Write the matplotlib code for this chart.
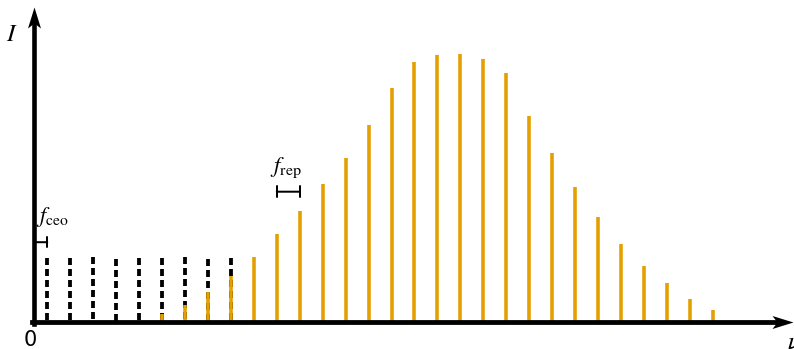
import numpy as np
import matplotlib
matplotlib.use("Agg")
import matplotlib.pyplot as plt
from matplotlib.path import Path

plt.rcParams["mathtext.fontset"] = "stix"
plt.rcParams["lines.scale_dashes"] = False

# Frequency comb: line n sits at f_ceo + n * f_rep
f_rep = 1.0
f_ceo = 0.58
n_lines = 30

# Intensity envelope of the measured comb (arbitrary units)
intensity = [0, 0, 0, 0, 0, 7.5, 16.5, 29.5, 45.5, 64.5, 87.5, 110.5, 138, 164,
             197, 234, 260, 267, 268, 263, 249, 205.5, 168.5, 135, 104.5, 77.5,
             55.5, 38.5, 22.5, 11.5]
# Extrapolated (dashed) low-frequency lines
extrap_index = [0, 1, 2, 3, 4, 5, 6, 7, 8]
extrap_height = [64, 63.5, 64.5, 63, 63.5, 63.5, 64.5, 62.5, 63.5]

ORANGE = "#E69F00"
DPI = 100
px = 72.0 / DPI  # one pixel in points

fig = plt.figure(figsize=(7.94, 3.49), dpi=DPI)
ax = fig.add_axes([0, 0, 1, 1])
ax.set_xlim(-1.481, 33.12)
ax.set_ylim(-27.3, 321.7)
ax.axis("off")

freqs = f_ceo + np.arange(n_lines) * f_rep
x_scale = 22.95  # pixels per f_rep unit along x

# extrapolated comb lines down to zero frequency
for i, h in zip(extrap_index, extrap_height):
    ax.plot([freqs[i], freqs[i]], [h, 0], color="black", lw=3.8 * px,
            dash_capstyle="butt", linestyle=(0, (7 * px, 4 * px)), zorder=2)

# measured comb lines, drawn over the dashed ones
for f, h in zip(freqs, intensity):
    if h > 0:
        ax.plot([f, f], [0, h], color=ORANGE, lw=3.6 * px,
                solid_capstyle="butt", zorder=3)

# axes with arrow heads
y_tip = 314.7
x_tip = 33.07
ax.plot([0, 0], [-2.3, y_tip - 12], color="black", lw=4.6 * px,
        solid_capstyle="projecting", zorder=4)
ax.plot([-2.3 / x_scale, x_tip - 12 / x_scale], [0, 0], color="black",
        lw=4.8 * px, solid_capstyle="projecting", zorder=4)

head_up = Path([(0, 0), (-6.5, -21), (0, -16), (6.5, -21), (0, 0)],
               [Path.MOVETO, Path.LINETO, Path.LINETO, Path.LINETO, Path.CLOSEPOLY])
head_right = Path([(0, 0), (-21, 6.5), (-16, 0), (-21, -6.5), (0, 0)],
                  [Path.MOVETO, Path.LINETO, Path.LINETO, Path.LINETO, Path.CLOSEPOLY])
ax.plot([0], [y_tip], marker=head_up, markersize=42 * px, color="black",
        markeredgewidth=0, zorder=5)
ax.plot([x_tip], [0], marker=head_right, markersize=42 * px, color="black",
        markeredgewidth=0, zorder=5)

# f_ceo bracket between zero and the first comb line
ax.annotate("", xy=(freqs[0], 79.5), xytext=(0, 79.5),
            arrowprops=dict(arrowstyle="|-|,widthA=0,widthB=0.35", lw=2 * px,
                            color="black", shrinkA=0, shrinkB=0))
ax.text(0.1, 100, r"$f_{\mathrm{ceo}}$", fontsize=16, ha="left",
        va="baseline", color="black")

# f_rep bracket between two neighbouring lines
ax.annotate("", xy=(freqs[11], 130), xytext=(freqs[10], 130),
            arrowprops=dict(arrowstyle="|-|,widthA=0.4,widthB=0.4", lw=2 * px,
                            color="black", shrinkA=0, shrinkB=0))
ax.text((freqs[10] + freqs[11]) / 2 - 0.1, 150, r"$f_{\mathrm{rep}}$",
        fontsize=16.5, ha="center", va="baseline", color="black")

# axis labels
ax.text(-22 / x_scale, 288, r"$I$", fontsize=18, ha="center", va="center")
ax.text(-4 / x_scale, -18, "0", fontsize=15, ha="center", va="center",
        family="DejaVu Sans")
ax.text(x_tip - 6 / x_scale, -20, r"$\nu$", fontsize=18, ha="left", va="center")

fig.savefig("out.png", dpi=DPI)
